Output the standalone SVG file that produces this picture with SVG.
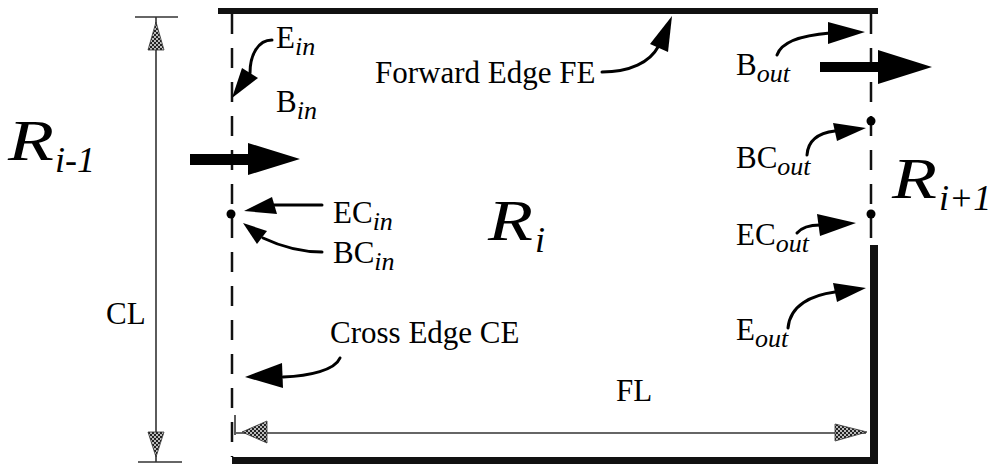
<svg xmlns="http://www.w3.org/2000/svg" width="995" height="465" viewBox="0 0 995 465">
<style>
.lbl{font-family:"Liberation Serif","Times New Roman",serif;font-size:31px;fill:#000}
.sub{font-style:italic;font-size:26px}
.big{font-family:"Liberation Serif","Times New Roman",serif;font-style:italic;font-size:58px;fill:#000}
.bsub{font-family:"Liberation Serif","Times New Roman",serif;font-style:italic;font-size:36px;fill:#000}
.dash{stroke:#111;stroke-width:2.5;stroke-dasharray:20 14;fill:none}
.curve{stroke:#000;stroke-width:3;fill:none;stroke-linecap:round}
.head{fill:#000}
.dim{stroke:#333;stroke-width:1.6;fill:none}
.dimhead{fill:url(#checker);stroke:#333;stroke-width:0.8}
</style>
<defs>
  <pattern id="checker" width="4" height="4" patternUnits="userSpaceOnUse">
    <rect width="4" height="4" fill="#bbb"/>
    <rect width="2" height="2" fill="#222"/>
    <rect x="2" y="2" width="2" height="2" fill="#222"/>
  </pattern>
</defs>
<rect width="995" height="465" fill="#fff"/>

<g id="region">
  <rect x="218" y="8" width="660" height="6" fill="#111"/>
  <rect x="232" y="457" width="646" height="7" fill="#111"/>
  <line class="dash" x1="232" y1="14" x2="232" y2="457"/>
  <line class="dash" x1="871" y1="14" x2="871" y2="245"/>
  <rect x="870" y="245" width="8" height="219" fill="#111"/>
  <circle cx="231" cy="214" r="4.5" fill="#000"/>
  <circle cx="871" cy="121" r="4.5" fill="#000"/>
  <circle cx="871" cy="214" r="4.5" fill="#000"/>
</g>

<g id="dimensions">
  <line class="dim" x1="135" y1="17" x2="178" y2="17"/>
  <line class="dim" x1="138" y1="462" x2="182" y2="462"/>
  <line class="dim" x1="156" y1="17" x2="156" y2="462"/>
  <polygon class="dimhead" points="156,22 148,50 164,50"/>
  <polygon class="dimhead" points="156,457 148,432 164,432"/>
  <line class="dim" x1="235" y1="415" x2="235" y2="435"/>
  <line class="dim" x1="236" y1="433" x2="866" y2="433"/>
  <polygon class="dimhead" points="242,432 267,421 267,443"/>
  <polygon class="dimhead" points="867,432 835,424 835,441"/>
</g>

<g id="flow-arrows">
  <path d="M190,154 H248 V143 L300,159 L248,175 V165 H190 Z" fill="#000"/>
  <path d="M820,62 H878 V50 L932,67 L878,84 V72 H820 Z" fill="#000"/>
</g>

<g id="connectors">
  <path class="curve" d="M272,40 C258,40 250,55 250,73"/>
  <polygon class="head" points="232,98 242,68 258,78"/>
  <path class="curve" d="M602,72 C630,72 650,62 658,47"/>
  <polygon class="head" points="672,16 650,44 668,52"/>
  <path class="curve" d="M777,55 C782,40 805,35 830,33"/>
  <polygon class="head" points="865,32 828,22 828,44"/>
  <path class="curve" d="M807,155 C808,140 818,133 835,131"/>
  <polygon class="head" points="866,128 833,123 837,141"/>
  <path class="curve" d="M797,233 C803,226 812,225 820,225"/>
  <polygon class="head" points="856,223 817,214 820,236"/>
  <path class="curve" d="M788,328 C790,305 812,295 835,292"/>
  <polygon class="head" points="866,288 833,283 837,302"/>
  <path class="curve" d="M322,205 L274,205"/>
  <polygon class="head" points="244,211 272,197 277,214"/>
  <path class="curve" d="M322,252 C300,252 280,246 263,238"/>
  <polygon class="head" points="243,223 267,231 257,244"/>
  <path class="curve" d="M340,358 C335,370 310,376 283,377"/>
  <polygon class="head" points="245,377 282,363 283,388"/>
</g>

<g id="labels">
  <text class="big" x="8" y="160" textLength="46" lengthAdjust="spacingAndGlyphs">R</text>
  <text class="bsub" x="55" y="172">i-1</text>
  <text class="big" x="488" y="240" textLength="45" lengthAdjust="spacingAndGlyphs">R</text>
  <text class="bsub" x="535" y="252">i</text>
  <text class="big" x="892" y="198" textLength="45" lengthAdjust="spacingAndGlyphs">R</text>
  <text class="bsub" x="939" y="210">i+1</text>
  <text class="lbl" x="276" y="48">E<tspan class="sub" dy="7">in</tspan></text>
  <text class="lbl" x="276" y="112">B<tspan class="sub" dy="7">in</tspan></text>
  <text class="lbl" x="375" y="83">Forward Edge FE</text>
  <text class="lbl" x="736" y="75">B<tspan class="sub" dy="7">out</tspan></text>
  <text class="lbl" x="736" y="168">BC<tspan class="sub" dy="7">out</tspan></text>
  <text class="lbl" x="736" y="245">EC<tspan class="sub" dy="7">out</tspan></text>
  <text class="lbl" x="736" y="340">E<tspan class="sub" dy="7">out</tspan></text>
  <text class="lbl" x="333" y="223">EC<tspan class="sub" dy="7">in</tspan></text>
  <text class="lbl" x="333" y="263">BC<tspan class="sub" dy="7">in</tspan></text>
  <text class="lbl" x="330" y="343">Cross Edge CE</text>
  <text class="lbl" x="106" y="324">CL</text>
  <text class="lbl" x="616" y="401">FL</text>
</g>
</svg>
